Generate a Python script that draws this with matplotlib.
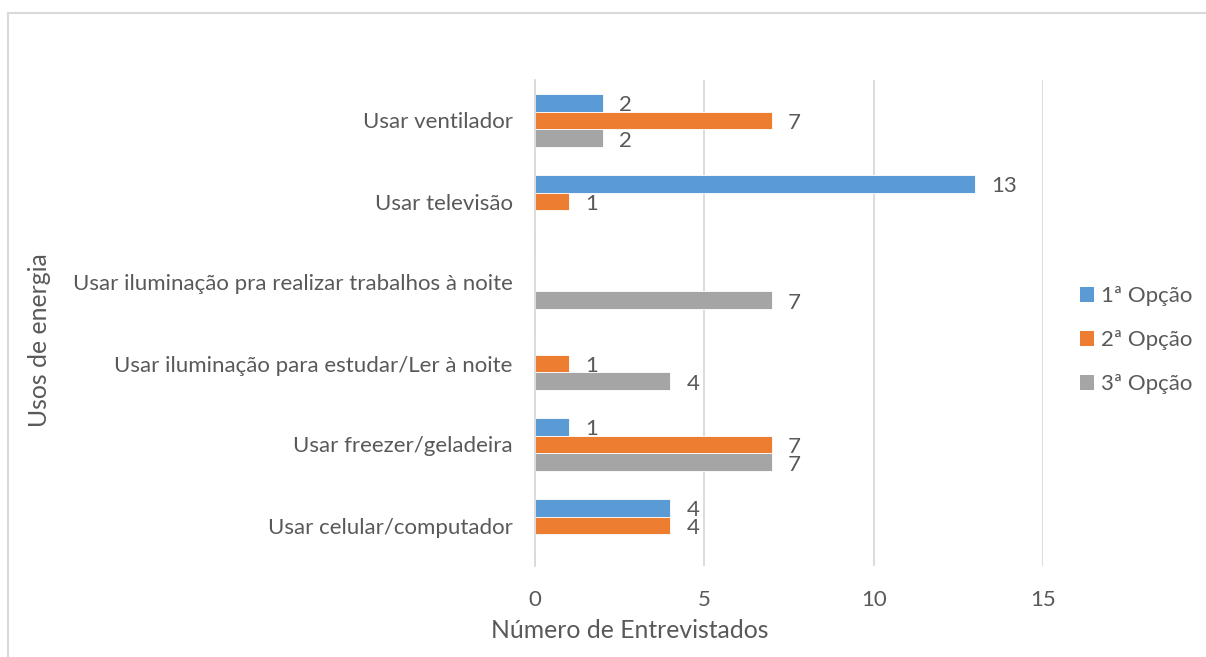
import matplotlib
matplotlib.use("Agg")
import matplotlib.pyplot as plt
from matplotlib.lines import Line2D
from matplotlib.patches import Patch
import numpy as np

categories = ["Usar celular/computador", "Usar freezer/geladeira",
              "Usar iluminação para estudar/Ler à noite",
              "Usar iluminação pra realizar trabalhos à noite",
              "Usar televisão", "Usar ventilador"]
series_names = ["1ª Opção", "2ª Opção", "3ª Opção"]
op1 = [4, 1, np.nan, np.nan, 13, 2]
op2 = [4, 7, 1, np.nan, 1, 7]
op3 = [np.nan, 7, 4, 7, np.nan, 2]
xticks = [0, 5, 10, 15]
colors = ["#5B9BD5", "#ED7D31", "#A5A5A5"]

plt.rcParams['font.family'] = ['Lato', 'DejaVu Sans']
txt = "#595959"

W, H = 1206, 657
fig = plt.figure(figsize=(W/100, H/100), dpi=100)
ax = fig.add_axes([535/W, 1-566/H, (1043-535)/W, (566-80)/H])

y = np.arange(len(categories))
h = 0.222
offsets = [h, 0, -h]
for vals, off, c, name in zip([op1, op2, op3], offsets, colors, series_names):
    v = np.array(vals, dtype=float)
    ax.barh(y + off, np.nan_to_num(v), height=h, color=c, label=name, edgecolor='white', linewidth=0.6)
    for yi, vi in zip(y, v):
        if not np.isnan(vi) and vi > 0:
            ax.annotate(f"{int(vi)}", (vi, yi + off), xytext=(11.5, -1.5), textcoords='offset points',
                        va='center', ha='left', fontsize=16, color=txt)

ax.set_xlim(0, 15)
ax.set_ylim(-0.5, 5.5)
ax.set_xticks(xticks)
ax.set_xticklabels([str(t) for t in xticks], fontsize=16, color=txt)
ax.set_yticks(y)
ax.set_yticklabels(categories, fontsize=16, color=txt)
ax.tick_params(axis='y', length=0, pad=16)
ax.tick_params(axis='x', length=0, pad=17)
ax.xaxis.grid(True, color="#D9D9D9", linewidth=1.3)
ax.set_axisbelow(True)
for s in ['top', 'right', 'bottom']:
    ax.spines[s].set_visible(False)
ax.spines['left'].set_color("#D9D9D9")
ax.spines['left'].set_linewidth(1.3)

fig.text(630/W, 1-630/H, "Número de Entrevistados", ha='center', va='center', fontsize=17.8, color=txt)
fig.text(40/W, 1-340/H, "Usos de energia", ha='center', va='center', rotation=90, fontsize=17.8, color=txt)

handles = [Patch(facecolor=c, edgecolor='none') for c in colors]
fig.legend(handles, series_names, loc='center left', bbox_to_anchor=(1080/W, 1-340/H),
           frameon=False, fontsize=16, labelcolor=txt, handlelength=0.64, handleheight=0.64,
           handletextpad=0.3, labelspacing=1.08, borderpad=0, borderaxespad=0)

fig.add_artist(Line2D([8/W, 1], [1-13/H, 1-13/H], color="#D9D9D9", linewidth=1.5))
fig.add_artist(Line2D([8/W, 8/W], [0, 1-13/H], color="#D9D9D9", linewidth=1.5))

fig.savefig("out.png", dpi=100)
